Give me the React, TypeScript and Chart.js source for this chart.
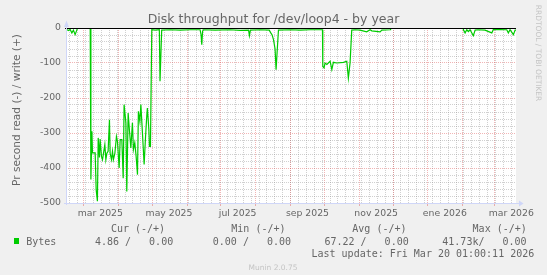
import React, { useEffect, useRef } from 'react';
import { Chart, registerables } from 'chart.js';

Chart.register(...registerables);

// ---- data (x = days since 1 Mar 2025, y = bytes per second, read shown negative) ----
const readDays = [
  -15.5, -14.5, -13.3, -11.8, -10.3, -8.9, -7.4, -5.9, -5.2, 0.5,
  6.0, 6.6, 7.5, 8.0, 10.4, 11.3, 12.4, 13.1, 14.2, 14.8, 16.0, 16.9, 17.8, 19.0, 19.9,
  20.8, 21.9, 23.1, 23.7, 24.9, 25.8, 26.6, 27.9, 29.3, 30.2, 31.7, 32.6, 34.1, 35.3,
  36.1, 37.7, 38.5, 39.7, 40.9, 42.1, 43.5, 44.4, 45.6, 46.8, 48.0, 48.8, 50.1, 51.0,
  52.4, 53.9, 55.1, 56.3, 56.8, 58.1, 58.6, 59.5,
  60.7, 63.6, 67.4, 68.0, 69.5, 77.0, 85.9, 94.8, 103.6, 104.5, 105.1, 105.8, 106.3,
  117.0, 130.3, 139.2, 146.7, 147.4, 148.3, 157.0, 165.0, 166.4, 167.6, 168.8, 170.2,
  171.1, 172.0, 173.2, 183.6, 192.5, 201.4, 212.3,
  212.6, 213.7, 214.6, 216.2, 219.1, 220.6, 222.0, 225.0, 230.9, 233.9, 235.3, 236.8,
  238.3, 241.3, 245.7, 251.6, 254.6, 256.1, 263.5, 265.0, 272.4, 272.8, 300.0,
  337.2, 337.5, 339.0, 340.5, 341.9, 343.4, 346.3, 347.9, 350.5, 356.7, 362.7, 364.1,
  376.0, 377.4, 378.9, 381.9, 383.4, 384.2,
];
const readValues: (number | null)[] = [
  -3, -5, -7, -4, -14, -6, -19, -6, 0, null,
  0, -433, -295, -357, -357, -462, -495, -314, -370, -317, -367, -376, -358, -333, -376,
  -358, -352, -262, -358, -376, -352, -376, -358, -310, -324, -400, -319, -319, -429,
  -219, -271, -467, -243, -295, -343, -271, -347, -328, -367, -419, -238, -267, -219,
  -300, -390, -314, -248, -229, -290, -338, -338,
  -5, -6, -5, -152, -6, -5, -6, -5, -5, -20, -48, -10, -5,
  -6, -5, -7, -6, -22, -6, -5, -6, -14, -20, -33, -60,
  -119, -70, -6, -5, -6, -5, -5,
  -110, -114, -100, -104, -95, -119, -98, -100, -98, -95, -143, -100,
  -6, -5, -6, -11, -5, -8, -11, -6, -5, 0, null,
  0, -5, -14, -5, -10, -5, -22, -6, -5, -6, -14, -4,
  -5, -14, -5, -19, -6, -6,
];

const xMin = -15.5;
const xMax = 384.2;
const monthStartDays = [0, 31, 61, 92, 122, 153, 184, 214, 245, 275, 306, 337, 365];
const firstWeekDay = -12;
const weekLength = 7;
const xTickLabels = ['mar 2025', 'may 2025', 'jul 2025', 'sep 2025', 'nov 2025', 'ene 2026', 'mar 2026'];
const xTickLabelDays = [15, 76, 137, 199, 260, 321, 380];

const yMin = -500;
const yMax = 0;
const yMinorStep = 20;
const yMajorStep = 100;

const chartTitle = 'Disk throughput for /dev/loop4 - by year';
const yAxisTitle = 'Pr second read (-) / write (+)';
const sideMark = 'RRDTOOL / TOBI OETIKER';
const seriesName = 'Bytes';
const legendHeaders = ['Cur (-/+)', 'Min (-/+)', 'Avg (-/+)', 'Max (-/+)'];
const legendValues = ['4.86 /   0.00', '0.00 /   0.00', '67.22 /   0.00', '41.73k/   0.00'];
const lastUpdate = 'Last update: Fri Mar 20 01:00:11 2026';
const footer = 'Munin 2.0.75';

const SANS = '"DejaVu Sans", sans-serif';
const MONO = '"DejaVu Sans Mono", monospace';
const FONT_COLOR = '#666666';
const AXIS_COLOR = '#CFD6F8';
const GRID_COLOR = 'rgba(143,143,143,0.42)';
const MGRID_COLOR = 'rgba(222,79,79,0.42)';
const GREEN = '#00cc00';

function buildXTicks() {
  const t: any[] = [];
  for (let d = firstWeekDay; d <= xMax; d += weekLength) {
    if (d >= xMin) t.push({ value: d, kind: 'minor' });
  }
  monthStartDays.forEach((d) => {
    if (d >= xMin && d <= xMax) t.push({ value: d, kind: 'major' });
  });
  xTickLabelDays.forEach((d, i) => t.push({ value: d, kind: 'label', text: xTickLabels[i] }));
  t.sort((a, b) => a.value - b.value);
  return t;
}

function buildYTicks() {
  const t: any[] = [];
  for (let v = yMin; v <= yMax; v += yMinorStep) {
    const major = v % yMajorStep === 0;
    t.push({ value: v, kind: major ? 'major' : 'minor', text: major ? String(v) : '' });
  }
  return t;
}

export default function App() {
  const ref = useRef<HTMLCanvasElement>(null);

  useEffect(() => {
    document.body.style.margin = '0';
    document.body.style.background = '#f0f0f0';
    const canvas = ref.current;
    if (!canvas) return;

    const points = readDays.map((d, i) => ({ x: d, y: readValues[i] }));

    const chrome = {
      id: 'chrome',
      beforeDraw(chart: any) {
        const { ctx, chartArea: a } = chart;
        ctx.save();
        ctx.fillStyle = '#f0f0f0';
        ctx.fillRect(0, 0, chart.width, chart.height);
        ctx.fillStyle = '#ffffff';
        ctx.fillRect(a.left, a.top, a.right - a.left, a.bottom - a.top);
        ctx.restore();
      },
      afterDatasetsDraw(chart: any) {
        const { ctx, chartArea: a } = chart;
        const ys = chart.scales.y;
        ctx.save();
        const y0 = Math.round(ys.getPixelForValue(0)) + 0.5;
        ctx.strokeStyle = '#000000';
        ctx.lineWidth = 1;
        ctx.beginPath();
        ctx.moveTo(a.left - 1, y0);
        ctx.lineTo(a.right, y0);
        ctx.stroke();
        const yb = Math.round(ys.getPixelForValue(yMin)) + 0.5;
        const xl = Math.round(a.left) + 0.5;
        ctx.strokeStyle = AXIS_COLOR;
        ctx.beginPath();
        ctx.moveTo(a.left - 2, yb);
        ctx.lineTo(a.right + 4, yb);
        ctx.moveTo(xl, a.bottom + 2);
        ctx.lineTo(xl, a.top - 4);
        ctx.stroke();
        ctx.fillStyle = AXIS_COLOR;
        ctx.beginPath();
        ctx.moveTo(xl, a.top - 7.5);
        ctx.lineTo(xl - 2.5, a.top - 1);
        ctx.lineTo(xl + 2.5, a.top - 1);
        ctx.closePath();
        ctx.fill();
        ctx.beginPath();
        ctx.moveTo(a.right + 7.5, yb);
        ctx.lineTo(a.right + 3, yb - 3);
        ctx.lineTo(a.right + 3, yb + 3);
        ctx.closePath();
        ctx.fill();
        ctx.restore();
      },
      afterDraw(chart: any) {
        const { ctx } = chart;
        ctx.save();
        ctx.fillStyle = FONT_COLOR;
        ctx.font = `12.5px ${SANS}`;
        ctx.textAlign = 'center';
        ctx.textBaseline = 'alphabetic';
        ctx.fillText(chartTitle, 273.5, 23);
        ctx.save();
        ctx.translate(17.5, 110);
        ctx.rotate(-Math.PI / 2);
        ctx.font = `10.6px ${SANS}`;
        ctx.textBaseline = 'middle';
        ctx.fillText(yAxisTitle, 0, 0);
        ctx.restore();
        ctx.save();
        ctx.translate(538, 53);
        ctx.rotate(Math.PI / 2);
        ctx.font = `7.5px ${SANS}`;
        ctx.fillStyle = '#c4c4c4';
        ctx.textBaseline = 'middle';
        ctx.fillText(sideMark, 0, 0);
        ctx.restore();
        ctx.font = `10px ${MONO}`;
        ctx.textAlign = 'left';
        ctx.textBaseline = 'alphabetic';
        const headerX = [110.9, 231.3, 352.3, 472.6];
        const valueX = [94.9, 212.8, 324.4, 442.3];
        legendHeaders.forEach((h, i) => ctx.fillText(h, headerX[i], 232.4));
        ctx.fillText(seriesName, 26.2, 244.6);
        legendValues.forEach((v, i) => ctx.fillText(v, valueX[i], 244.6));
        ctx.fillText(lastUpdate, 311.5, 257.4);
        ctx.fillStyle = GREEN;
        ctx.fillRect(14, 238, 5, 6);
        ctx.font = `7.5px ${SANS}`;
        ctx.fillStyle = '#c4c4c4';
        ctx.textAlign = 'center';
        ctx.fillText(footer, 273, 269.8);
        ctx.restore();
      },
    };

    const chart = new Chart(canvas, {
      type: 'line',
      data: {
        datasets: [
          {
            label: seriesName,
            data: points as any,
            borderColor: GREEN,
            borderWidth: 1.2,
            pointRadius: 0,
            tension: 0,
            fill: false,
            spanGaps: false,
          },
        ],
      },
      options: {
        animation: false,
        responsive: false,
        devicePixelRatio: 1,
        events: [],
        layout: { padding: { top: 28, right: 31, left: 0, bottom: 0 } },
        plugins: {
          legend: { display: false },
          title: { display: false },
          tooltip: { enabled: false },
        },
        scales: {
          x: {
            type: 'linear',
            min: xMin,
            max: xMax,
            afterBuildTicks: (s: any) => {
              s.ticks = buildXTicks();
            },
            afterFit: (s: any) => {
              s.height = 72;
            },
            ticks: {
              autoSkip: false,
              maxRotation: 0,
              minRotation: 0,
              padding: 2.5,
              color: FONT_COLOR,
              font: { family: SANS, size: 9.3 },
              callback: (_v: any, i: number, ticks: any[]) => (ticks[i] && ticks[i].text) || '',
            },
            grid: {
              lineWidth: 1,
              color: (c: any) =>
                c.tick && c.tick.kind === 'major' ? MGRID_COLOR : c.tick && c.tick.kind === 'minor' ? GRID_COLOR : 'rgba(0,0,0,0)',
              drawTicks: true,
              tickLength: 3,
              tickColor: (c: any) => (c.tick && c.tick.kind === 'major' ? MGRID_COLOR : 'rgba(0,0,0,0)'),
            },
            border: { display: false, dash: [1, 1] },
          },
          y: {
            type: 'linear',
            min: yMin,
            max: yMax,
            afterBuildTicks: (s: any) => {
              s.ticks = buildYTicks();
            },
            afterFit: (s: any) => {
              s.width = 66;
            },
            ticks: {
              autoSkip: false,
              padding: 5,
              color: FONT_COLOR,
              font: { family: SANS, size: 9.3 },
              callback: (_v: any, i: number, ticks: any[]) => (ticks[i] && ticks[i].text) || '',
            },
            grid: {
              lineWidth: 1,
              drawTicks: false,
              color: (c: any) => (c.tick && c.tick.kind === 'major' ? MGRID_COLOR : GRID_COLOR),
            },
            border: { display: false, dash: [1, 1] },
          },
        },
      } as any,
      plugins: [chrome],
    });

    return () => chart.destroy();
  }, []);

  return (
    <div style={{ width: 547, height: 275 }}>
      <canvas ref={ref} width={547} height={275} style={{ display: 'block' }} />
    </div>
  );
}
